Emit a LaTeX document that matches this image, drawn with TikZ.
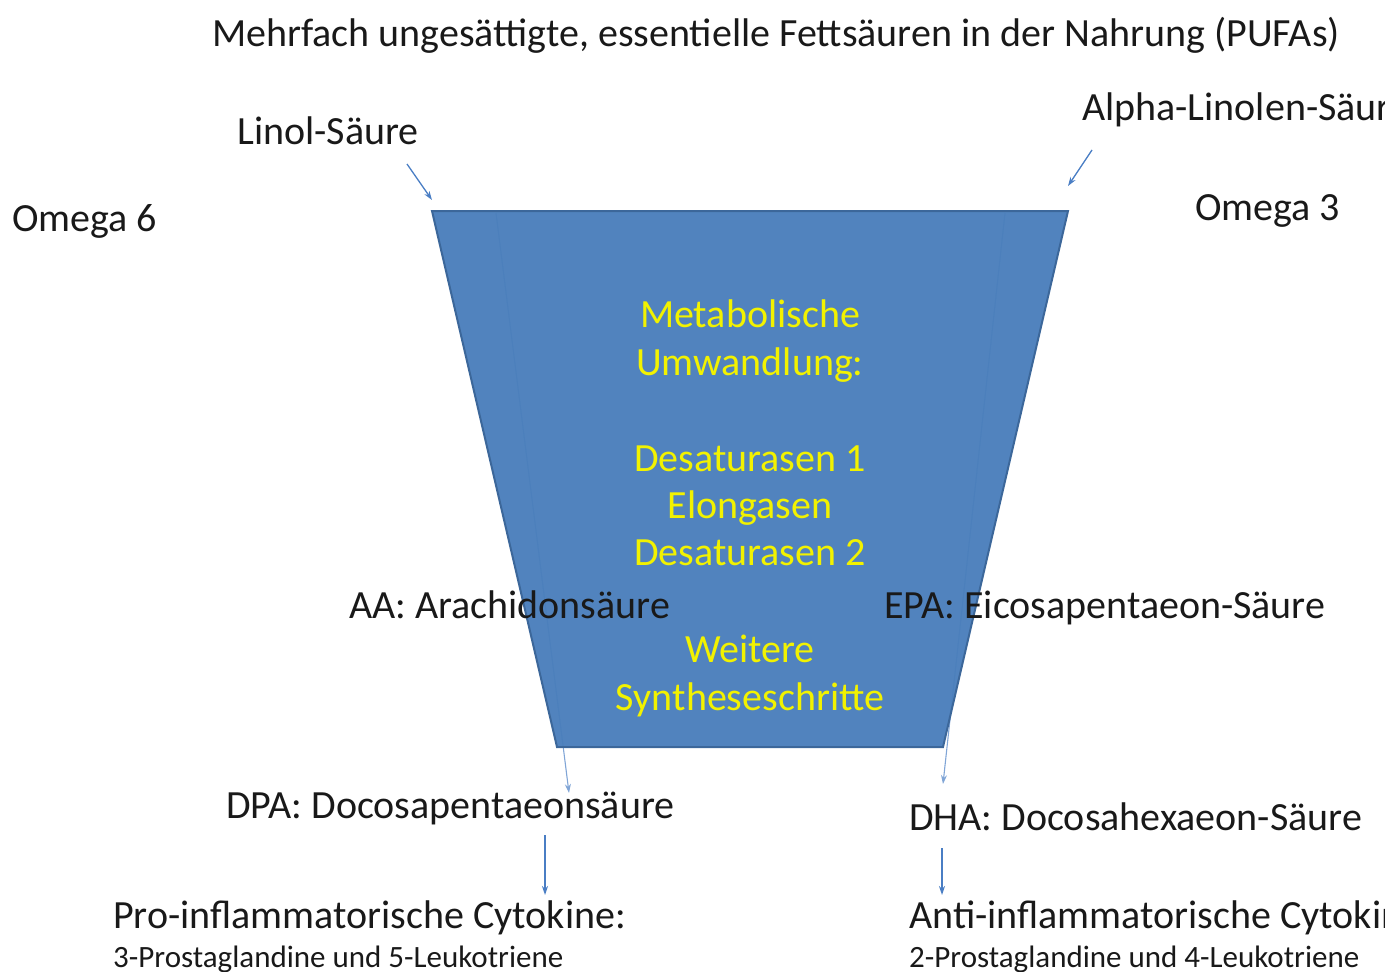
\documentclass[tikz,border=0pt]{standalone}
\usepackage{fontspec}
\setmainfont{Carlito}
\usetikzlibrary{arrows.meta}
\definecolor{trapfill}{HTML}{4A7EBB}
\definecolor{trapline}{HTML}{3C679A}
\definecolor{arr}{HTML}{4A7EC4}
\definecolor{ytext}{HTML}{F2F200}
\tikzset{
  lbl/.style={anchor=base west, inner sep=0pt, font=\fontsize{40}{48}\selectfont, text=black!90},
  small/.style={anchor=base west, inner sep=0pt, font=\fontsize{31}{36}\selectfont, text=black!90},
  ylbl/.style={anchor=base, inner sep=0pt, font=\fontsize{40}{48}\selectfont, text=ytext},
  conn/.style={draw=arr, line width=1.3pt, -{Stealth[length=9pt,width=6pt]}},
  faint/.style={draw=arr!70!white, line width=1.1pt, -{Stealth[length=9pt,width=6pt]}}
}
\begin{document}
\begin{tikzpicture}[x=1pt,y=-1pt]
\useasboundingbox (0,0) rectangle (1385,972);
% trapezoid corners
\coordinate (tl) at (432,211);
\coordinate (tr) at (1068,211);
\coordinate (br) at (943,747);
\coordinate (bl) at (557,747);
% hidden arrows behind the shape
\coordinate (hl) at (496,213);
\coordinate (hr) at (1005,213);
\coordinate (dpa) at (569,793);
\coordinate (dha) at (943,784);
\draw[faint] (hl) -- (dpa);
\draw[faint] (hr) -- (dha);
\fill[trapfill, fill opacity=0.96] (tl) -- (tr) -- (br) -- (bl) -- cycle;
\draw[trapline, line width=2pt, line join=miter] (tl) -- (tr) -- (br) -- (bl) -- cycle;

\node[lbl] (title) at (212,46) {Mehrfach ungesättigte, essentielle Fettsäuren in der Nahrung (PUFAs)};
\node[lbl] (linol) at (237,144) {Linol-Säure};
\node[lbl] (alpha) at (1082,120) {Alpha-Linolen-Säure};
\node[lbl] (om6) at (12,231) {Omega 6};
\node[lbl] (om3) at (1195,220) {Omega 3};

\node[ylbl] (y1) at (750,327) {Metabolische};
\node[ylbl] (y2) at (750,375) {Umwandlung:};
\node[ylbl] (y3) at (750,471) {Desaturasen 1};
\node[ylbl] (y4) at (750,518) {Elongasen};
\node[ylbl] (y5) at (750,565) {Desaturasen 2};
\node[ylbl] (y6) at (750,662) {Weitere};
\node[ylbl] (y7) at (750,710) {Syntheseschritte};

\node[lbl] (aa) at (349,618) {AA: Arachidonsäure};
\node[lbl] (epa) at (884,618) {EPA: Eicosapentaeon-Säure};
\node[lbl] (dpat) at (226,818) {DPA: Docosapentaeonsäure};
\node[lbl] (dhat) at (909,830) {DHA: Docosahexaeon-Säure};

\node[lbl] (pro) at (113,928) {Pro-inflammatorische Cytokine:};
\node[small] (pro2) at (113,967) {3-Prostaglandine und 5-Leukotriene};
\node[lbl] (anti) at (909,928) {Anti-inflammatorische Cytokine:};
\node[small] (anti2) at (909,967) {2-Prostaglandine und 4-Leukotriene};

\coordinate (a1s) at (407,164);
\coordinate (a2s) at (1092,150);
\coordinate (a2e) at (1068,186);
\coordinate (a1e) at (432,200);
\draw[conn] (a1s) -- (a1e);
\draw[conn] (a2s) -- (a2e);
\coordinate (d1s) at (545,835);
\coordinate (d1e) at (545,895);
\coordinate (d2s) at (942,848);
\coordinate (d2e) at (942,895);
\draw[conn] (d1s) -- (d1e);
\draw[conn] (d2s) -- (d2e);
\end{tikzpicture}
\end{document}
